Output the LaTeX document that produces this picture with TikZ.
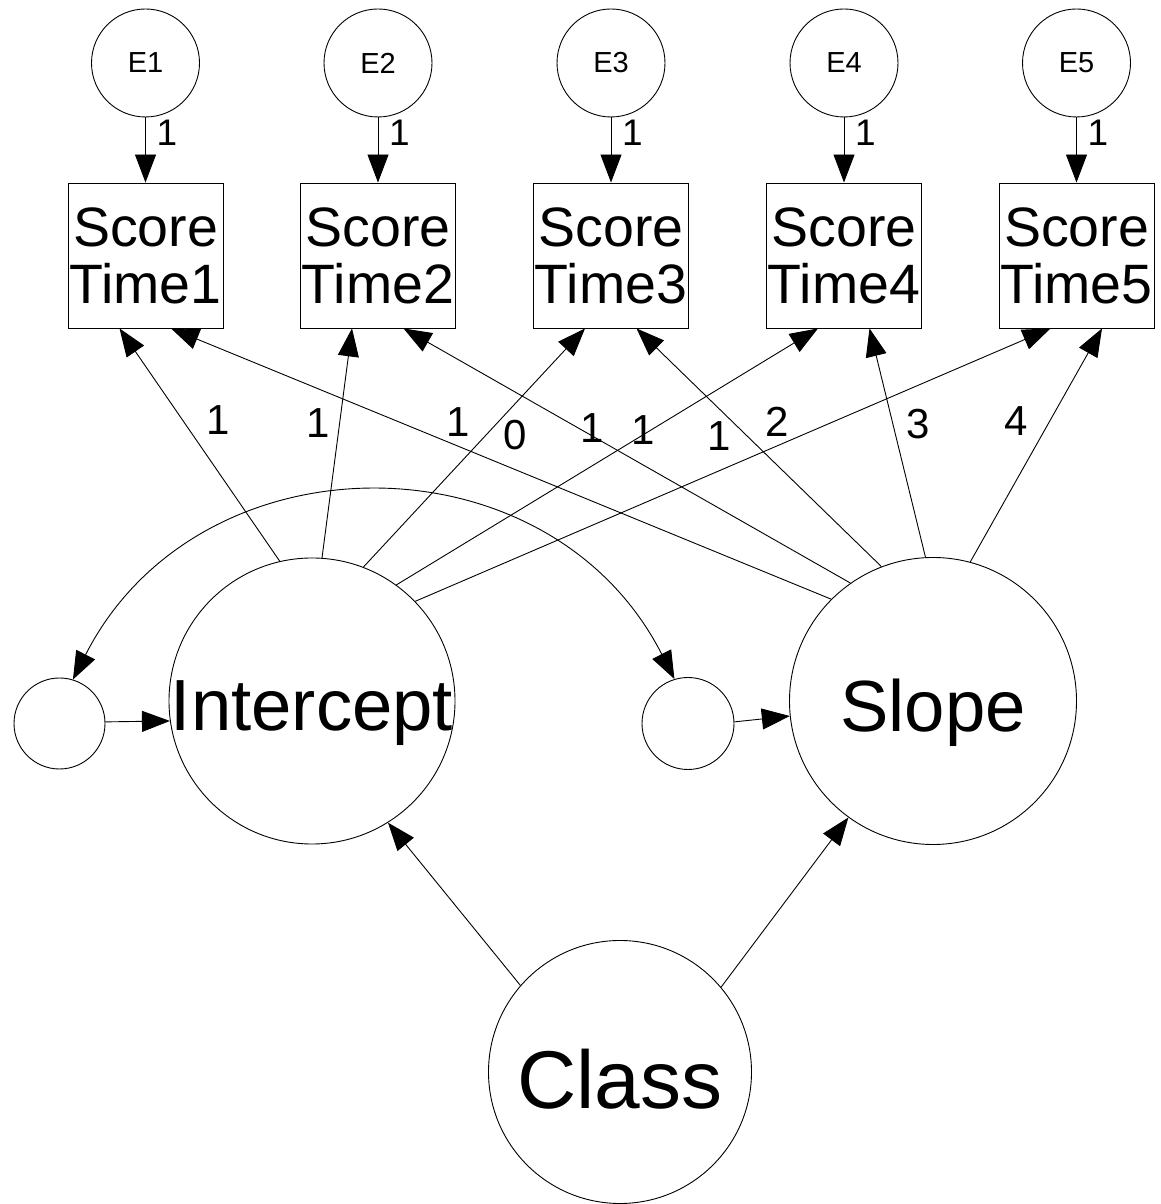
\documentclass[tikz,border=0pt]{standalone}
\usepackage{fontspec}
\setmainfont{Liberation Sans}
\usetikzlibrary{arrows.meta}
\begin{document}
\begin{tikzpicture}[x=1pt,y=1pt,line width=0.9pt,
  latent/.style={circle,draw,inner sep=0pt,fill=white},
  obs/.style={rectangle,draw,inner sep=0pt,minimum width=155pt,minimum height=145pt,align=center,font=\fontsize{55.5}{57}\selectfont},
  arr/.style={-{Triangle[length=28pt,width=21pt]}},
  darr/.style={{Triangle[length=28pt,width=21pt]}-{Triangle[length=28pt,width=21pt]}},
  elab/.style={font=\fontsize{29}{32}\selectfont},
  wlab/.style={font=\fontsize{37}{40}\selectfont,inner sep=0pt},
  plab/.style={font=\fontsize{42}{45}\selectfont,inner sep=0pt},
  big/.style={font=\fontsize{72.5}{80}\selectfont,inner sep=0pt}
]
\fill[white] (0,0) rectangle (1161,1204);
\path[use as bounding box] (0,0) rectangle (1161,1204);

% error terms
\node[latent,minimum size=108pt,elab] (e1) at (145.5,1141) {E1};
\node[latent,minimum size=108pt,elab] (e2) at (378,1141) {E2};
\node[latent,minimum size=108pt,elab] (e3) at (611,1141) {E3};
\node[latent,minimum size=108pt,elab] (e4) at (844,1141) {E4};
\node[latent,minimum size=108pt,elab] (e5) at (1076.5,1141) {E5};

% observed scores
\node[obs] (b1) at (145.5,948.5) {Score\\Time1};
\node[obs] (b2) at (378,948.5) {Score\\Time2};
\node[obs] (b3) at (611,948.5) {Score\\Time3};
\node[obs] (b4) at (844,948.5) {Score\\Time4};
\node[obs] (b5) at (1076.5,948.5) {Score\\Time5};

% growth factors
\node[latent,minimum size=286pt,label={[big,yshift=-12pt]center:Intercept}] (int) at (312,503) {};
\node[latent,minimum size=287pt,label={[big,yshift=-12pt]center:Slope}] (slp) at (933,503) {};
\node[latent,minimum size=91pt] (r1) at (59.5,480.5) {};
\node[latent,minimum size=92pt] (r2) at (688,480.5) {};
\node[latent,minimum size=263pt,label={[font=\fontsize{82}{90}\selectfont,inner sep=0pt,yshift=-7pt]center:Class}] (cls) at (620,132) {};

% error arrows
\foreach \i in {1,...,5} {\draw[arr] (e\i) -- (b\i);}
\node[wlab] (w1) at (167,1071) {1};
\node[wlab] (w2) at (399.5,1071) {1};
\node[wlab] (w3) at (632.5,1071) {1};
\node[wlab] (w4) at (865.5,1071) {1};
\node[wlab] (w5) at (1098,1071) {1};

% intercept loadings
\draw[arr] (int.103.7) -- ([xshift=-26pt]b1.south);
\draw[arr] (int.86) -- ([xshift=-26pt]b2.south);
\draw[arr] (int.69.2) -- ([xshift=-26pt]b3.south);
\draw[arr] (int.54.9) -- ([xshift=-26pt]b4.south);
\draw[arr] (int.44.4) -- ([xshift=-26pt]b5.south);

% slope loadings
\draw[arr] (slp.135.8) -- ([xshift=25.5pt]b1.south);
\draw[arr] (slp.125.1) -- ([xshift=25.5pt]b2.south);
\draw[arr] (slp.111.2) -- ([xshift=25.5pt]b3.south);
\draw[arr] (slp.93.6) -- ([xshift=25.5pt]b4.south);
\draw[arr] (slp.75.7) -- ([xshift=25.5pt]b5.south);

% loading labels
\node[plab] (l1) at (218.6,784) {1};
\node[plab] (l2) at (317.8,781) {1};
\node[plab] (l3) at (457.8,782.3) {1};
\node[plab] (l4) at (515.6,769) {0};
\node[plab] (l5) at (591.8,775.7) {1};
\node[plab] (l6) at (643.4,774) {1};
\node[plab] (l7) at (719,768.3) {1};
\node[plab] (l8) at (777,782.3) {2};
\node[plab] (l9) at (917.9,780) {3};
\node[plab] (l10) at (1015.7,783.3) {4};

% residuals
\draw[arr] (r1.2) -- (int.188.3);
\draw[arr] (r2.2.2) -- (slp.186.8);
\draw[darr] (r1.73) .. controls +(63:277) and +(117:277) .. (r2.107);

% class
\draw[arr] (cls.139) -- (int.-58);
\draw[arr] (cls.40) -- (slp.-126.6);
\end{tikzpicture}
\end{document}
